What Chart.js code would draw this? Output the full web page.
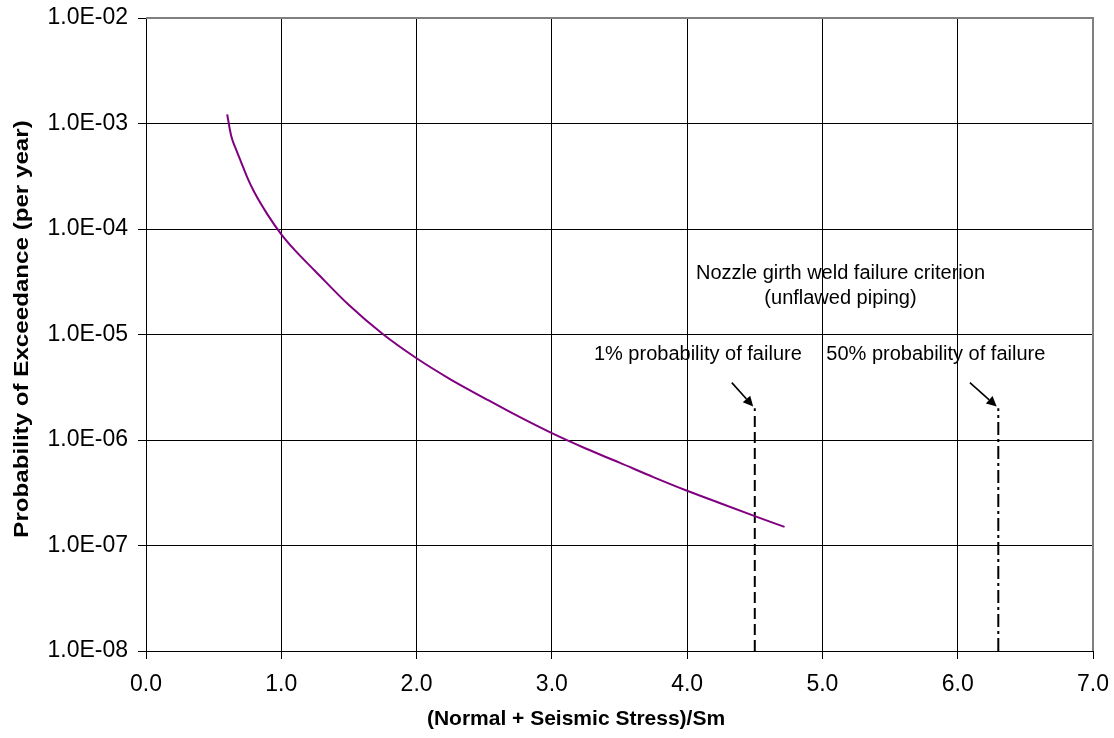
<!DOCTYPE html>
<html>
<head>
<meta charset="utf-8">
<script src="https://cdn.jsdelivr.net/npm/chart.js@4.4.0/dist/chart.umd.min.js"></script>
<style>
  html, body { margin: 0; padding: 0; background: #ffffff; }
  canvas { display: block; }
</style>
</head>
<body>
<canvas id="chart" width="1114" height="738"></canvas>
<script>
// Stress ratio (Normal + Seismic)/Sm and annual exceedance probability
const stressRatio = [0.60, 0.63, 0.67, 0.70, 0.75, 0.80, 0.90, 1.00, 1.10, 1.25, 1.50, 1.75, 2.00, 2.25, 2.50, 2.75, 3.00, 3.25, 3.50, 3.75, 4.00, 4.25, 4.50, 4.72];
const exceedance  = [1.22e-3, 7.6e-4, 5.5e-4, 4.4e-4, 3.05e-4, 2.24e-4, 1.36e-4, 8.9e-5, 6.3e-5, 4.0e-5, 1.9e-5, 1.01e-5, 5.95e-6, 3.76e-6, 2.5e-6, 1.68e-6, 1.16e-6, 8.3e-7, 6.1e-7, 4.45e-7, 3.3e-7, 2.5e-7, 1.9e-7, 1.5e-7];

// Nozzle girth weld failure criteria (unflawed piping)
const criterionStress = [4.5, 6.3];
const criterionLabels = ['1% probability of failure', '50% probability of failure'];
const criterionTop = 2e-6;
const criterionFloor = 1e-8;

// Axis ticks
const yTickValues = [1e-8, 1e-7, 1e-6, 1e-5, 1e-4, 1e-3, 1e-2];
const xTickValues = [0, 1, 2, 3, 4, 5, 6, 7];

const FONT = 'Arial, "Liberation Sans", sans-serif';

function sciLabel(v) {
  const e = Math.round(Math.log10(v));
  return '1.0E' + (e < 0 ? '-' : '+') + String(Math.abs(e)).padStart(2, '0');
}

const curvePoints = stressRatio.map((s, i) => ({ x: s, y: exceedance[i] }));
const criterionLine = (s) => [{ x: s, y: criterionFloor }, { x: s, y: criterionTop }];

// Pointer arrows towards the top of each criterion line
const arrows = [
  { from: [criterionStress[0] - 0.17, criterionTop * 1.75], to: [criterionStress[0] - 0.012, criterionTop * 1.04] },
  { from: [criterionStress[1] - 0.21, criterionTop * 1.75], to: [criterionStress[1] - 0.012, criterionTop * 1.04] }
];

const overlay = {
  id: 'overlay',
  afterDatasetsDraw(chart) {
    const { ctx, chartArea: a, scales: { x, y } } = chart;
    ctx.save();

    // frame: grey top and right edges
    ctx.strokeStyle = '#808080';
    ctx.lineWidth = 2;
    ctx.beginPath();
    ctx.moveTo(a.left, a.top);
    ctx.lineTo(a.right, a.top);
    ctx.lineTo(a.right, a.bottom);
    ctx.stroke();

    // criterion captions
    ctx.fillStyle = '#000000';
    ctx.font = '20px ' + FONT;
    ctx.textBaseline = 'alphabetic';
    ctx.textAlign = 'center';
    const cx = (a.left + a.right) / 2 + 221;
    ctx.fillText('Nozzle girth weld failure criterion', cx, 278.5);
    ctx.fillText('(unflawed piping)', cx, 303.5);
    ctx.textAlign = 'right';
    ctx.fillText(criterionLabels[0], x.getPixelForValue(criterionStress[0]) + 47, 360);
    ctx.textAlign = 'left';
    ctx.fillText(criterionLabels[1], x.getPixelForValue(criterionStress[1]) - 172, 360);

    // arrows
    ctx.strokeStyle = '#000000';
    ctx.lineWidth = 1.6;
    arrows.forEach(ar => {
      const x1 = x.getPixelForValue(ar.from[0]), y1 = y.getPixelForValue(ar.from[1]);
      const x2 = x.getPixelForValue(ar.to[0]), y2 = y.getPixelForValue(ar.to[1]);
      const ang = Math.atan2(y2 - y1, x2 - x1);
      const hl = 10, hw = 5;
      const bx = x2 - hl * Math.cos(ang), by = y2 - hl * Math.sin(ang);
      ctx.beginPath();
      ctx.moveTo(x1, y1);
      ctx.lineTo(bx, by);
      ctx.stroke();
      ctx.beginPath();
      ctx.moveTo(x2, y2);
      ctx.lineTo(bx + hw * Math.sin(ang), by - hw * Math.cos(ang));
      ctx.lineTo(bx - hw * Math.sin(ang), by + hw * Math.cos(ang));
      ctx.closePath();
      ctx.fill();
    });

    // axis titles
    ctx.font = 'bold 21px ' + FONT;
    ctx.textAlign = 'center';
    ctx.textBaseline = 'alphabetic';
    ctx.fillText('(Normal + Seismic Stress)/Sm', 576, 725);
    ctx.translate(28, 329);
    ctx.rotate(-Math.PI / 2);
    ctx.scale(1.15, 1);
    ctx.fillText('Probability of Exceedance (per year)', 0, 0);
    ctx.restore();
  }
};

new Chart(document.getElementById('chart'), {
  type: 'line',
  data: {
    datasets: [
      {
        data: curvePoints,
        borderColor: '#800080',
        borderWidth: 2,
        pointRadius: 0,
        cubicInterpolationMode: 'monotone',
        fill: false
      },
      {
        data: criterionLine(criterionStress[0]),
        borderColor: '#000000',
        borderWidth: 2,
        borderDash: [11, 5],
        pointRadius: 0,
        fill: false
      },
      {
        data: criterionLine(criterionStress[1]),
        borderColor: '#000000',
        borderWidth: 2,
        borderDash: [13, 4, 3, 4],
        pointRadius: 0,
        fill: false
      }
    ]
  },
  options: {
    responsive: false,
    animation: false,
    devicePixelRatio: 1,
    layout: { padding: { top: 18, right: 21, left: 0, bottom: 0 } },
    plugins: { legend: { display: false }, tooltip: { enabled: false }, title: { display: false } },
    scales: {
      x: {
        type: 'linear',
        min: 0,
        max: 7,
        afterBuildTicks: s => { s.ticks = xTickValues.map(v => ({ value: v })); },
        afterFit: s => { s.height = 87; s.paddingLeft = 0; s.paddingRight = 0; },
        ticks: {
          callback: v => Number(v).toFixed(1),
          color: '#000000',
          font: { family: FONT, size: 23 },
          padding: 12,
          maxRotation: 0
        },
        grid: { color: '#000000', lineWidth: 1, drawTicks: true, tickLength: 8, tickColor: '#000000' },
        border: { color: '#000000', width: 1 }
      },
      y: {
        type: 'logarithmic',
        min: 1e-8,
        max: 1e-2,
        afterBuildTicks: s => { s.ticks = yTickValues.map(v => ({ value: v })); },
        afterFit: s => { s.width = 146; s.paddingTop = 0; s.paddingBottom = 0; },
        ticks: {
          callback: v => sciLabel(v),
          color: '#000000',
          font: { family: FONT, size: 23 },
          padding: 10
        },
        grid: { color: '#000000', lineWidth: 1, drawTicks: true, tickLength: 8, tickColor: '#000000' },
        border: { color: '#000000', width: 1 }
      }
    }
  },
  plugins: [overlay]
});
</script>
</body>
</html>
